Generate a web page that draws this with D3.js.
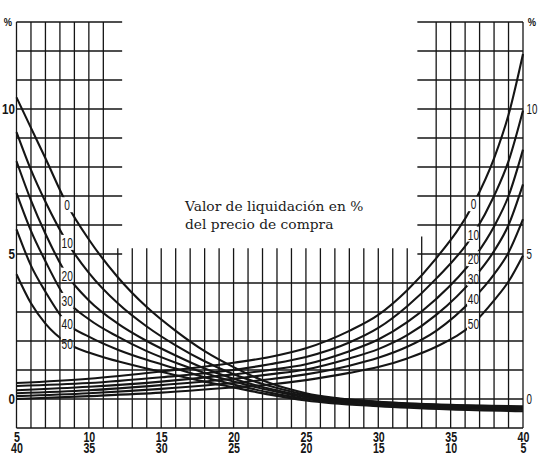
<!DOCTYPE html>
<html>
<head>
<meta charset="utf-8">
<script src="https://cdn.jsdelivr.net/npm/d3@7"></script>
<style>
  body { margin: 0; background: #fff; }
  svg { display: block; }
  .num { font-family: "Liberation Sans", Arial, sans-serif; fill: #151515; }
</style>
</head>
<body>
<svg width="540" height="476"></svg>
<script>
// tick labels: upper row and lower row under the x axis
const xTopLabels = [5, 10, 15, 20, 25, 30, 35, 40];
const xBottomLabels = [40, 35, 30, 25, 20, 15, 10, 5];
const yLabels = [0, 5, 10];
const curveNames = ["0", "10", "20", "30", "40", "50"];

// falling curves (labels on the left)
const fallX = [5, 6, 7, 8.5, 10, 12, 14, 16, 18, 20, 22.5, 25, 30, 35, 40];
const fall0  = [10.4, 9.35, 8.3, 6.7, 5.5, 4.2, 3.17, 2.35, 1.65, 1.1, 0.55, 0.2, -0.1, -0.2, -0.25];
const fall10 = [9.2, 7.9, 6.8, 5.4, 4.35, 3.3, 2.5, 1.85, 1.3, 0.85, 0.45, 0.15, -0.1, -0.22, -0.28];
const fall20 = [8.2, 6.85, 5.7, 4.27, 3.4, 2.6, 2.0, 1.5, 1.05, 0.7, 0.35, 0.1, -0.15, -0.25, -0.3];
const fall30 = [7.1, 5.8, 4.75, 3.4, 2.75, 2.15, 1.65, 1.25, 0.9, 0.6, 0.3, 0.05, -0.18, -0.28, -0.33];
const fall40 = [5.85, 4.6, 3.7, 2.6, 2.15, 1.7, 1.35, 1.05, 0.75, 0.5, 0.22, 0.0, -0.22, -0.32, -0.37];
const fall50 = [4.3, 3.3, 2.6, 1.93, 1.6, 1.3, 1.05, 0.82, 0.6, 0.4, 0.15, -0.05, -0.25, -0.36, -0.42];

// rising curves (labels on the right)
const riseX = [5, 10, 15, 20, 22.5, 25, 28, 30, 32, 34, 36.6, 38, 39, 40];
const rise0  = [0.55, 0.7, 0.95, 1.25, 1.45, 1.75, 2.35, 2.9, 3.75, 4.85, 6.75, 8.3, 9.8, 11.9];
const rise10 = [0.45, 0.55, 0.75, 1.0, 1.2, 1.45, 1.95, 2.45, 3.2, 4.15, 5.7, 7.0, 8.2, 9.95];
const rise20 = [0.3, 0.42, 0.6, 0.85, 1.0, 1.2, 1.65, 2.05, 2.65, 3.45, 4.85, 5.95, 7.0, 8.6];
const rise30 = [0.2, 0.3, 0.48, 0.7, 0.85, 1.02, 1.4, 1.72, 2.2, 2.9, 4.17, 5.1, 6.0, 7.4];
const rise40 = [0.1, 0.2, 0.35, 0.55, 0.68, 0.85, 1.15, 1.42, 1.8, 2.35, 3.48, 4.3, 5.05, 6.2];
const rise50 = [0.0, 0.1, 0.22, 0.4, 0.5, 0.65, 0.9, 1.1, 1.4, 1.8, 2.62, 3.4, 4.05, 4.95];

const title = ["Valor de liquidación en %", "del precio de compra"];

var svg = d3.select("svg");

var x = d3.scaleLinear().domain([5, 40]).range([16.5, 523]);
var y = d3.scaleLinear().domain([-1, 13]).range([428, 22]);

var ink = "#151515";

var fallSeries = [fall0, fall10, fall20, fall30, fall40, fall50].map(function(v, i) {
    return { name: curveNames[i], xs: fallX, vals: v, labelAt: 8.5 };
});
var riseSeries = [rise0, rise10, rise20, rise30, rise40, rise50].map(function(v, i) {
    return { name: curveNames[i], xs: riseX, vals: v, labelAt: 36.58 };
});
var allSeries = fallSeries.concat(riseSeries);

var line = d3.line()
    .x(function(d) { return x(d[0]) })
    .y(function(d) { return y(d[1]) })
    .curve(d3.curveMonotoneX);

// curves
svg.append("g").selectAll("path")
    .data(allSeries)
    .join("path")
    .attr("fill", "none")
    .attr("stroke", ink)
    .attr("stroke-width", 2.1)
    .attr("d", function(s) { return line(s.xs.map(function(xv, i) { return [xv, s.vals[i]] })) });

// value of a curve at its label position
function valueAt(s) {
    return d3.scaleLinear().domain(s.xs).range(s.vals)(s.labelAt);
}

// white patches where the labels break the curves
svg.append("g").selectAll("rect")
    .data(allSeries)
    .join("rect")
    .attr("x", function(s) { return x(s.labelAt) - 6.5 })
    .attr("y", function(s) { return y(valueAt(s)) - 7.5 })
    .attr("width", 13)
    .attr("height", 15)
    .attr("fill", "#fff");

// grid
var grid = svg.append("g").attr("stroke", ink).attr("stroke-width", 1.3);
d3.range(5, 41).forEach(function(v) {
    var full = v <= 11 || v >= 34;
    grid.append("line")
        .attr("x1", x(v)).attr("x2", x(v))
        .attr("y1", y(-1)).attr("y2", y(full ? 13 : (v == 33 ? 5.6 : 5.2)));
});
d3.range(-1, 14).forEach(function(v) {
    if (v <= 4) {
        grid.append("line")
            .attr("x1", x(5)).attr("x2", x(40))
            .attr("y1", y(v)).attr("y2", y(v));
    } else {
        grid.append("line")
            .attr("x1", x(5)).attr("x2", x(12.3))
            .attr("y1", y(v)).attr("y2", y(v));
        grid.append("line")
            .attr("x1", x(32.7)).attr("x2", x(40))
            .attr("y1", y(v)).attr("y2", y(v));
    }
});

// curve labels (narrow figures)
svg.append("g").selectAll("text")
    .data(allSeries)
    .join("text")
    .attr("class", "num")
    .attr("transform", function(s) {
        return "translate(" + x(s.labelAt) + "," + (y(valueAt(s)) + 5.5) + ") scale(0.7,1)";
    })
    .attr("text-anchor", "middle")
    .attr("font-size", 14.5)
    .text(function(s) { return s.name });

// x axis labels, two rows
var axTop = svg.append("g")
    .attr("transform", "translate(0," + y(-1) + ")")
    .call(d3.axisBottom(x).tickValues(xTopLabels).tickSize(0).tickPadding(4));
var axBottom = svg.append("g")
    .attr("transform", "translate(0," + (y(-1) + 11) + ")")
    .call(d3.axisBottom(x).tickValues(xTopLabels).tickSize(0).tickPadding(4)
        .tickFormat(function(d, i) { return xBottomLabels[i] }));

// y axis labels, both sides
var axLeft = svg.append("g")
    .attr("transform", "translate(" + x(5) + ",0)")
    .call(d3.axisLeft(y).tickValues(yLabels).tickSize(0).tickPadding(2));
var axRight = svg.append("g")
    .attr("transform", "translate(" + x(40) + ",0)")
    .call(d3.axisRight(y).tickValues(yLabels).tickSize(0).tickPadding(5));

[axTop, axBottom, axLeft, axRight].forEach(function(a) {
    a.select(".domain").remove();
    a.selectAll("text")
        .attr("class", "num")
        .attr("font-size", 14);
});
axTop.selectAll("text").attr("font-weight", "bold").attr("transform", "scale(0.76,1)");
axBottom.selectAll("text").attr("font-weight", "bold").attr("transform", "scale(0.76,1)");
axLeft.selectAll("text").attr("font-weight", "bold").attr("font-size", 14.5).attr("transform", "scale(0.8,1)");
axRight.selectAll("text").attr("transform", "scale(0.7,1)");

// % signs at the top of both scales
svg.append("text").attr("class", "num")
    .attr("transform", "translate(8," + (y(13) + 4) + ") scale(0.85,1)")
    .attr("text-anchor", "middle").attr("font-size", 11).attr("font-weight", "bold")
    .text("%");
svg.append("text").attr("class", "num")
    .attr("transform", "translate(532," + (y(13) + 4) + ") scale(0.85,1)")
    .attr("text-anchor", "middle").attr("font-size", 11).attr("font-weight", "bold")
    .text("%");

// caption
svg.append("g").selectAll("text")
    .data(title)
    .join("text")
    .attr("x", 185)
    .attr("y", function(d, i) { return 211 + i * 18 })
    .attr("font-family", "'DejaVu Serif', 'Liberation Serif', serif")
    .attr("font-size", 13.8)
    .attr("fill", "#1a1a1a")
    .text(function(d) { return d });
</script>
</body>
</html>
